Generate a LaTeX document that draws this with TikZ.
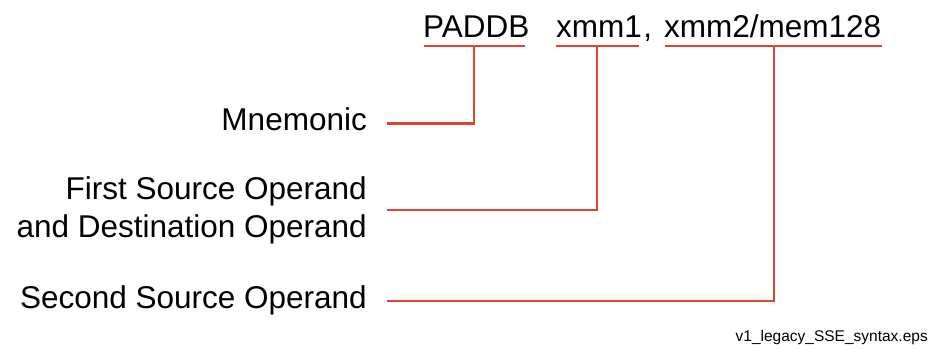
\documentclass[tikz,border=0pt]{standalone}
\usepackage{fontspec}
\setmainfont{Liberation Sans}
\definecolor{linered}{RGB}{226,66,46}
\begin{document}
\begin{tikzpicture}[x=1pt,y=-1pt,
  term/.style={inner sep=0pt,anchor=base west,font=\fontsize{31.5}{38}\selectfont},
  lbl/.style={inner sep=0pt,anchor=base east,align=right,font=\fontsize{31.5}{38}\selectfont},
  uline/.style={draw=linered,line width=2.2pt},
  conn/.style={draw=linered,line width=2.2pt}]
\useasboundingbox (0,0) rectangle (932,350);
% top syntax line
\node[term] (mn) at (423,38) {PADDB};
\node[term] (op1) at (556,38) {xmm1};
\node[term] (comma) at ([xshift=1pt]op1.base east) {,};
\node[term] (op2) at (664,38) {xmm2/mem128};
% underlines
\coordinate (u1a) at (424,46); \coordinate (u1b) at (525,46);
\coordinate (u2a) at (556,46); \coordinate (u2b) at (639,46);
\coordinate (u3a) at (665,46); \coordinate (u3b) at (882,46);
\draw[uline] (u1a) -- (u1b);
\draw[uline] (u2a) -- (u2b);
\draw[uline] (u3a) -- (u3b);
% labels
\node[lbl] (l1) at (367,131) {Mnemonic};
\node[lbl] (l2) at (367,237) {First Source Operand\\and Destination Operand};
\node[lbl] (l3) at (367,308) {Second Source Operand};
% connector start points
\coordinate (c1) at (387,123.5);
\coordinate (c2) at (387,210);
\coordinate (c3) at (387,301);
\coordinate (t1) at (474,46);
\coordinate (t2) at (597,46);
\coordinate (t3) at (774,46);
\draw[conn] (c1) -| (t1);
\draw[conn] (c2) -| (t2);
\draw[conn] (c3) -| (t3);
% footer
\node[inner sep=0pt,anchor=base east,font=\fontsize{15.5}{18}\selectfont] (foot) at (928,341) {v1\_legacy\_SSE\_syntax.eps};
\end{tikzpicture}
\end{document}
